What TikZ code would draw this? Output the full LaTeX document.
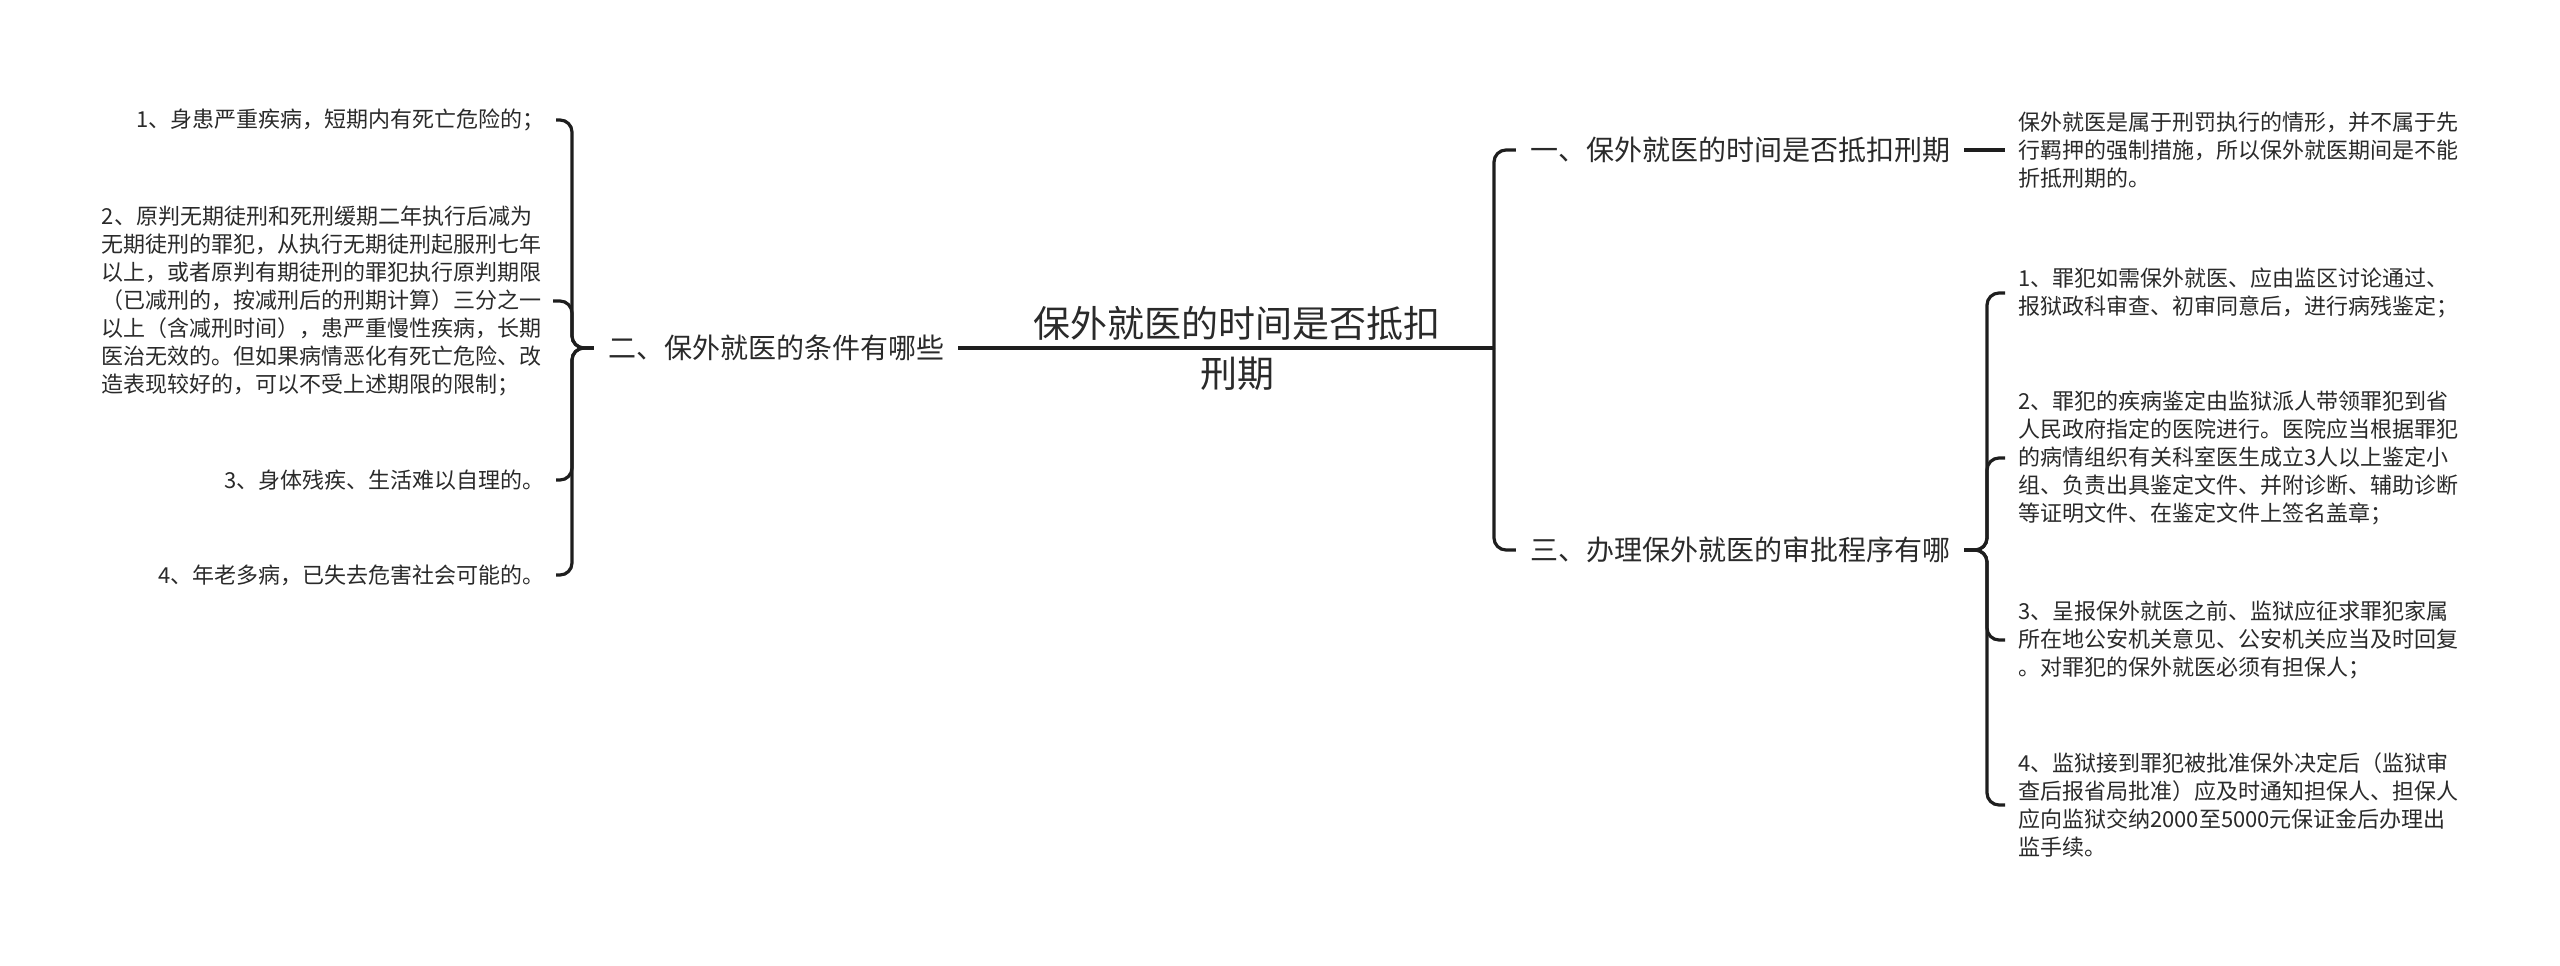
\documentclass[tikz,border=0pt]{standalone}
\usepackage{fontspec}
\setmainfont{Noto Sans CJK SC}
\definecolor{ink}{HTML}{2A2A2A}
\definecolor{linecol}{HTML}{1E1E1E}
\begin{document}
\begin{tikzpicture}[x=1pt,y=-1pt,
  conn/.style={draw=linecol,line width=3.2pt,rounded corners=12pt},
  leafr/.style={anchor=west,inner ysep=0pt,inner xsep=13pt,text=ink,font=\fontsize{22}{28}\selectfont,align=left},
  leafl/.style={anchor=east,inner ysep=0pt,inner xsep=11pt,text=ink,font=\fontsize{22}{28}\selectfont,align=left},
  branch/.style={inner ysep=0pt,inner xsep=14pt,text=ink,font=\fontsize{28}{34}\selectfont},
  rootnode/.style={inner sep=0pt,text=ink,font=\fontsize{37}{50}\selectfont,align=center}]
\useasboundingbox (0,0) rectangle (2560,966);

% root
\node[rootnode] (root) at (1237,348) {保外就医的时间是否抵扣\\刑期};

% branches
\node[branch] (lb) at (776,348) {二、保外就医的条件有哪些};
\node[branch] (rb1) at (1740,150) {一、保外就医的时间是否抵扣刑期};
\node[branch] (rb3) at (1740,550) {三、办理保外就医的审批程序有哪};

\coordinate (jr) at (1494,348);
\coordinate (jl) at (572,348);
\coordinate (jb) at (1987,550);

% left leaves
\node[leafl] (ll1) at (556,120) {1、身患严重疾病，短期内有死亡危险的；};
\node[leafl] (ll2) at (553,301) {2、原判无期徒刑和死刑缓期二年执行后减为\\无期徒刑的罪犯，从执行无期徒刑起服刑七年\\以上，或者原判有期徒刑的罪犯执行原判期限\\（已减刑的，按减刑后的刑期计算）三分之一\\以上（含减刑时间），患严重慢性疾病，长期\\医治无效的。但如果病情恶化有死亡危险、改\\造表现较好的，可以不受上述期限的限制；};
\node[leafl] (ll3) at (556,480) {3、身体残疾、生活难以自理的。};
\node[leafl] (ll4) at (556,575) {4、年老多病，已失去危害社会可能的。};

% right leaves
\node[leafr] (rl0) at (2005,150) {保外就医是属于刑罚执行的情形，并不属于先\\行羁押的强制措施，所以保外就医期间是不能\\折抵刑期的。};
\node[leafr] (rl1) at (2005,293) {1、罪犯如需保外就医、应由监区讨论通过、\\报狱政科审查、初审同意后，进行病残鉴定；};
\node[leafr] (rl2) at (2005,458) {2、罪犯的疾病鉴定由监狱派人带领罪犯到省\\人民政府指定的医院进行。医院应当根据罪犯\\的病情组织有关科室医生成立3人以上鉴定小\\组、负责出具鉴定文件、并附诊断、辅助诊断\\等证明文件、在鉴定文件上签名盖章；};
\node[leafr] (rl3) at (2005,640) {3、呈报保外就医之前、监狱应征求罪犯家属\\所在地公安机关意见、公安机关应当及时回复\\。对罪犯的保外就医必须有担保人；};
\node[leafr] (rl4) at (2005,805) {4、监狱接到罪犯被批准保外决定后（监狱审\\查后报省局批准）应及时通知担保人、担保人\\应向监狱交纳2000至5000元保证金后办理出\\监手续。};

% connectors
\draw[conn] (lb.east) -- (jr);
\draw[conn] (jr) |- (rb1.west);
\draw[conn] (jr) |- (rb3.west);
\draw[conn] (rb1.east) -- (rl0.west);
\draw[conn] (rb3.east) -- (jb) |- (rl1.west);
\draw[conn] (rb3.east) -- (jb) |- (rl2.west);
\draw[conn] (rb3.east) -- (jb) |- (rl3.west);
\draw[conn] (rb3.east) -- (jb) |- (rl4.west);
\draw[conn] (lb.west) -- (jl) |- (ll1.east);
\draw[conn] (lb.west) -- (jl) |- (ll2.east);
\draw[conn] (lb.west) -- (jl) |- (ll3.east);
\draw[conn] (lb.west) -- (jl) |- (ll4.east);
\end{tikzpicture}
\end{document}
